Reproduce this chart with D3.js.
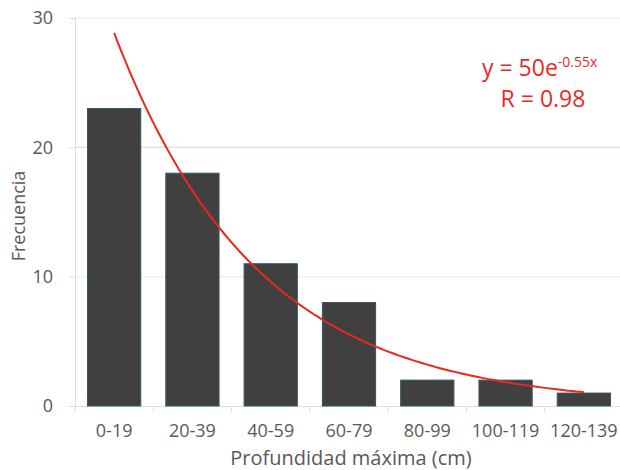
<!DOCTYPE html>
<html><head><meta charset="utf-8">
<script src="https://cdn.jsdelivr.net/npm/d3@7"></script>
<style>body{margin:0;background:#fff;} text{font-family:"Open Sans","Noto Sans",sans-serif;}</style>
</head><body>
<svg id="c" width="620" height="470"></svg>
<script>
const categories = ["0-19","20-39","40-59","60-79","80-99","100-119","120-139"];
const frecuencia = [23, 18, 11, 8, 2, 2, 1];
const yTicks = [0, 10, 20, 30];
const fitA = 50, fitB = -0.55, fitR = 0.98;

const svg = d3.select("#c");
const m = {l:75, r:623, t:18, b:406};
const x = d3.scaleBand().domain(categories).range([m.l, m.r]).paddingInner(0.32).paddingOuter(0.16);
const y = d3.scaleLinear().domain([0, 30]).range([m.b, m.t]);

// gridlines
svg.append("g").selectAll("line").data(yTicks.filter(d=>d>0)).join("line")
  .attr("x1", m.l).attr("x2", 620).attr("y1", d=>y(d)).attr("y2", d=>y(d))
  .attr("stroke", d=> d===20 ? "#efe0dc" : "#edf3f5").attr("stroke-width", 1.5);

// y axis
const ya = svg.append("g").attr("transform", `translate(${m.l},0)`)
  .call(d3.axisLeft(y).tickValues(yTicks).tickSize(6).tickPadding(16));
ya.select(".domain").attr("stroke", "#d8dfe2");
ya.selectAll(".tick line").attr("stroke", "#d8dfe2");
ya.selectAll(".tick text").attr("fill", "#595959").style("font-size", "18px");

// x axis
const xa = svg.append("g").attr("transform", `translate(0,${m.b})`)
  .call(d3.axisBottom(x).tickSize(0).tickPadding(18));
xa.select(".domain").attr("stroke", "#d8dfe2").attr("d", `M${m.l},0.5H620`);
xa.selectAll(".tick text").attr("fill", "#595959").style("font-size", "18px");
const step = x.step();
svg.append("g").selectAll("line").data(d3.range(categories.length+1)).join("line")
  .attr("x1", i=>m.l + i*step).attr("x2", i=>m.l + i*step)
  .attr("y1", m.b).attr("y2", m.b+6).attr("stroke", "#d8dfe2");

// bars
svg.append("g").selectAll("rect").data(frecuencia).join("rect")
  .attr("x", (d,i)=>x(categories[i])).attr("width", x.bandwidth())
  .attr("y", d=>y(d)).attr("height", d=>y(0)-y(d))
  .attr("fill", "#404040").attr("stroke", "#2f5866").attr("stroke-width", 1);

// trend line
const xc = i => x(categories[0]) + x.bandwidth()/2 + (i-1)*step;
const pts = d3.range(1, 7.0001, 0.05).map(t => [xc(t), y(fitA*Math.exp(fitB*t))]);
svg.append("path").attr("d", d3.line()(pts)).attr("fill","none")
  .attr("stroke", "#e8291f").attr("stroke-width", 2);

// equation
const eq = svg.append("text").attr("x", 482).attr("y", 76).attr("fill", "#e8291f").style("font-size", "23px");
eq.append("tspan").text(`y = ${fitA}e`);
eq.append("tspan").attr("dy", -9).style("font-size", "14px").text(`${fitB}x`);
svg.append("text").attr("x", 543).attr("y", 107).attr("text-anchor","middle").attr("fill", "#e8291f")
  .style("font-size", "23px").text(`R = ${fitR}`);

// axis titles
svg.append("text").attr("x", 351).attr("y", 465).attr("text-anchor","middle").attr("fill","#595959")
  .style("font-size", "20px").text("Profundidad máxima (cm)");
svg.append("text").attr("transform", "translate(25,216) rotate(-90)").attr("text-anchor","middle")
  .attr("fill","#595959").style("font-size", "18px").text("Frecuencia");
</script>
</body></html>
